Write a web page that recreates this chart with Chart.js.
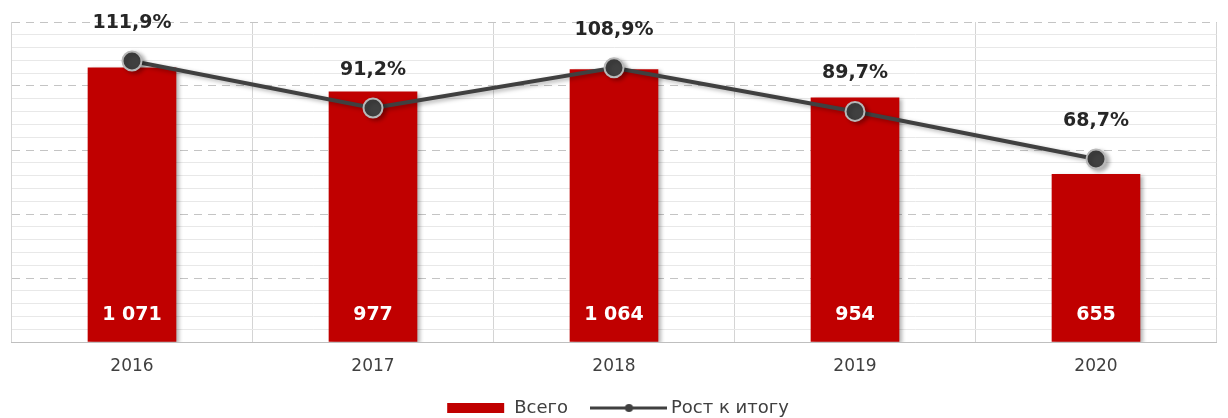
<!DOCTYPE html>
<html>
<head>
<meta charset="utf-8">
<script src="https://cdn.jsdelivr.net/npm/chart.js@4.4.1/dist/chart.umd.min.js"></script>
<style>
  html, body { margin: 0; padding: 0; background: #ffffff; }
  #wrap { width: 1228px; height: 418px; position: relative; }
</style>
</head>
<body>
<div id="wrap"><canvas id="c" width="1228" height="418"></canvas></div>
<script>
const categories = ['2016', '2017', '2018', '2019', '2020'];
const totals = [1071, 977, 1064, 954, 655];
const growth = [111.9, 91.2, 108.9, 89.7, 68.7];
const seriesNames = ['Всего', 'Рост к итогу'];

const RED = '#C00000';
const DARK = '#404040';

function fmtInt(v) {
  return String(v).replace(/\B(?=(\d{3})+(?!\d))/g, ' ');
}
function fmtPct(v) {
  return v.toFixed(1).replace('.', ',') + '%';
}

// legend marker canvases
function makeBoxMarker() {
  const c = document.createElement('canvas');
  c.width = 66; c.height = 10;
  const x = c.getContext('2d');
  x.fillStyle = RED; x.fillRect(8, 0, 57, 10);
  return c;
}
function makeLineMarker() {
  const c = document.createElement('canvas');
  c.width = 77; c.height = 10;
  const x = c.getContext('2d');
  x.strokeStyle = DARK; x.lineWidth = 3;
  x.beginPath(); x.moveTo(0, 5); x.lineTo(77, 5); x.stroke();
  x.fillStyle = DARK; x.beginPath(); x.arc(38.5, 5, 4, 0, Math.PI * 2); x.fill();
  return c;
}
const markers = [makeBoxMarker(), makeLineMarker()];

const shadowPlugin = {
  id: 'shadow',
  beforeDatasetDraw(chart, args) {
    const ctx = chart.ctx;
    ctx.save();
    ctx.shadowColor = 'rgba(0,0,0,0.30)';
    ctx.shadowBlur = 4;
    ctx.shadowOffsetX = 3;
    ctx.shadowOffsetY = 2;
  },
  afterDatasetDraw(chart) {
    chart.ctx.restore();
  }
};

const labelPlugin = {
  id: 'valueLabels',
  afterDatasetsDraw(chart) {
    const ctx = chart.ctx;
    const yScale = chart.scales.y;
    ctx.save();
    ctx.textAlign = 'center';
    ctx.textBaseline = 'middle';
    const barMeta = chart.getDatasetMeta(0);
    ctx.font = 'bold 19px "DejaVu Sans"';
    ctx.fillStyle = '#ffffff';
    barMeta.data.forEach((el, i) => {
      ctx.fillText(fmtInt(totals[i]), el.x, yScale.getPixelForValue(0) - 27);
    });
    const lineMeta = chart.getDatasetMeta(1);
    ctx.fillStyle = '#262626';
    lineMeta.data.forEach((el, i) => {
      ctx.fillText(fmtPct(growth[i]), el.x, el.y - 38);
    });
    ctx.restore();
  }
};

new Chart(document.getElementById('c'), {
  data: {
    labels: categories,
    datasets: [
      {
        type: 'bar',
        label: seriesNames[0],
        data: totals,
        backgroundColor: RED,
        barThickness: 88,
        yAxisID: 'y',
        order: 2
      },
      {
        type: 'line',
        label: seriesNames[1],
        data: growth,
        borderColor: DARK,
        borderWidth: 4,
        pointRadius: 9.5,
        pointHoverRadius: 9.5,
        pointBackgroundColor: DARK,
        pointBorderColor: '#b8b8b8',
        pointBorderWidth: 2,
        tension: 0,
        yAxisID: 'y2',
        order: 1
      }
    ]
  },
  options: {
    responsive: false,
    animation: false,
    devicePixelRatio: 1,
    layout: { padding: { left: 10, right: 10, top: 22, bottom: -9 } },
    plugins: {
      tooltip: { enabled: false },
      legend: {
        position: 'bottom',
        labels: {
          usePointStyle: true,
          pointStyleWidth: 66,
          padding: 28,
          color: '#404040',
          font: { family: '"DejaVu Sans"', size: 18 },
          generateLabels(chart) {
            return chart.data.datasets.map((ds, i) => ({
              text: ds.label,
              pointStyle: markers[i],
              fillStyle: 'transparent',
              strokeStyle: 'transparent',
              lineWidth: 0,
              fontColor: '#404040',
              datasetIndex: i,
              hidden: false
            }));
          }
        }
      }
    },
    scales: {
      x: {
        offset: true,
        grid: { color: '#d4d4d4', drawTicks: false, offset: true },
        border: { display: true, color: '#bfbfbf', width: 1 },
        ticks: { color: '#404040', padding: 14, font: { family: '"DejaVu Sans"', size: 17 } },
        afterFit(scale) { scale.height = 29; }
      },
      y: {
        min: 0,
        max: 1250,
        position: 'left',
        ticks: { display: false, stepSize: 50 },
        grid: {
          drawTicks: false,
          color(ctx) {
            const v = ctx.tick ? ctx.tick.value : 0;
            if (v === 0) return '#bfbfbf';
            return v % 250 === 0 ? '#c4c4c4' : '#e8e8e8';
          },
          lineWidth: 1
        },
        border: {
          display: false,
          dash(ctx) {
            const v = ctx.tick ? ctx.tick.value : 0;
            return (v > 0 && v % 250 === 0) ? [8, 6] : [];
          }
        },
        afterFit(scale) { scale.width = 0; }
      },
      y2: {
        display: false,
        min: -11.9,
        max: 129.1,
        position: 'right',
        grid: { drawOnChartArea: false }
      }
    }
  },
  plugins: [shadowPlugin, labelPlugin]
});
</script>
</body>
</html>
